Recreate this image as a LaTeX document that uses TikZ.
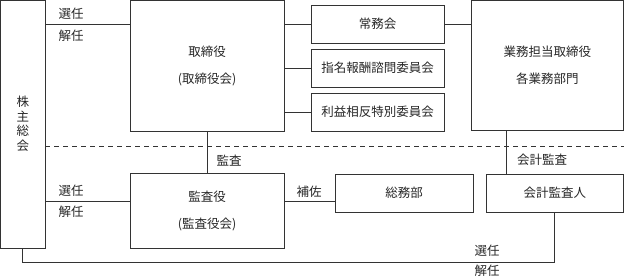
\documentclass[tikz,border=0pt]{standalone}
\usepackage{fontspec}
\setmainfont{Noto Sans CJK JP}
\begin{document}
\begin{tikzpicture}[x=1pt,y=-1pt,
  line width=0.8pt, draw=black!80,
  box/.style={draw=black!80, line width=0.8pt, inner sep=0pt, outer sep=0pt, align=center,
    text=black!85, font=\fontsize{12.5}{27}\selectfont},
  lbl/.style={inner sep=0pt, text=black!85, font=\fontsize{12.5}{15}\selectfont},
  conn/.style={draw=black!80, line width=0.8pt}]
\useasboundingbox (0,0) rectangle (624,278);
% boxes
\node[box, minimum width=44.5pt, minimum height=248pt, font=\fontsize{12.5}{14.5}\selectfont] (sh) at (22.75,124) {株\\主\\総\\会};
\node[box, minimum width=154pt, minimum height=131pt] (tori) at (207,65.5) {取締役\\(取締役会)};
\node[box, minimum width=133pt, minimum height=38pt] (jomu) at (377.5,24) {常務会};
\node[box, minimum width=133pt, minimum height=38pt] (shimei) at (377.5,68) {指名報酬諮問委員会};
\node[box, minimum width=133pt, minimum height=38pt] (rieki) at (377.5,112) {利益相反特別委員会};
\node[box, minimum width=152.5pt, minimum height=130pt] (gyomu) at (547.25,65) {業務担当取締役\\各業務部門};
\node[box, minimum width=154pt, minimum height=75pt] (kansa) at (207,210.5) {監査役\\(監査役会)};
\node[box, minimum width=138pt, minimum height=38pt] (somu) at (404,193) {総務部};
\node[box, minimum width=137.5pt, minimum height=38pt] (kaikei) at (554.75,193) {会計監査人};
% helper coordinates
\coordinate (ky) at (0,201);
\coordinate (gx) at (506,0);
\coordinate (by) at (0,262);
\coordinate (dy) at (0,146);
\coordinate (dend) at (624,146);
% connectors
\draw[conn] (sh.east |- jomu.west) -- (tori.west |- jomu.west);
\draw[conn] (tori.east |- jomu.west) -- (jomu.west);
\draw[conn] (tori.east |- shimei.west) -- (shimei.west);
\draw[conn] (tori.east |- rieki.west) -- (rieki.west);
\draw[conn] (jomu.east) -- (gyomu.west |- jomu.east);
\draw[conn] (tori.south) -- (kansa.north);
\draw[conn] (sh.east |- ky) -- (kansa.west |- ky);
\draw[conn] (kansa.east |- ky) -- (somu.west |- ky);
\draw[conn] (gx |- gyomu.south) -- (gx |- kaikei.north);
\draw[conn] (sh.south) -- (sh.south |- by) -- (kaikei.south |- by) -- (kaikei.south);
\draw[conn, dash pattern=on 5pt off 4pt] (sh.east |- dy) -- (dend);
% labels
\node[lbl] (l1) at (71,14) {選任};
\node[lbl] (l2) at (71,36) {解任};
\node[lbl] (l3) at (229,161) {監査};
\node[lbl] (l4) at (71,191) {選任};
\node[lbl] (l5) at (71,212) {解任};
\node[lbl] (l6) at (309,192) {補佐};
\node[lbl] (l7) at (542,160) {会計監査};
\node[lbl] (l8) at (487,251) {選任};
\node[lbl] (l9) at (487,271) {解任};
\end{tikzpicture}
\end{document}
